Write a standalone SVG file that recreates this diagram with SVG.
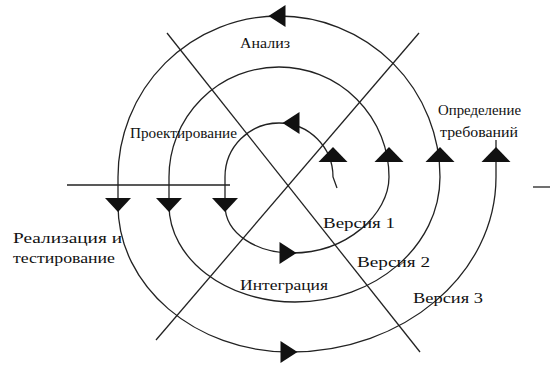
<svg xmlns="http://www.w3.org/2000/svg" width="550" height="365" viewBox="0 0 550 365">
<style>
.ln{fill:none;stroke:#222;stroke-width:1.3}
.ah{fill:#111;stroke:none}
.lb{font-family:"Liberation Serif","Times New Roman",serif;font-size:14px;fill:#111}
</style>
<defs>
<polygon id="up" points="0,-8 14.5,7 -14.5,7"/>
<polygon id="down" points="0,7 13,-7 -13,-7"/>
<polygon id="left" points="-8.5,0 8.5,-11 8.5,11"/>
<polygon id="right" points="8.5,0 -8.5,-11 -8.5,11"/>
</defs>
<rect width="550" height="365" fill="#fff"/>
<g id="connectors">
<line class="ln" x1="67" y1="185" x2="230" y2="185"/>
<line class="ln" x1="533" y1="187" x2="550" y2="187"/>
<line class="ln" x1="167" y1="33" x2="420" y2="352"/>
<line class="ln" x1="419" y1="33" x2="156" y2="340"/>
<path class="ln" d="M337,188 L333,177 A54,54 0 0 0 225,177 L225,205 C225,234 257,253 292,253 C347,253 389,214 389,177 A110,110 0 0 0 169,177 L169,205 C169,259 226,302 295,302 C375,302 440,246 440,177 A161,161 0 0 0 118,177 L118,205 C118,286 195,352 290,352 C404,352 496,274 496,177 L496,140"/>
</g>
<g id="arrows" class="ah">
<use href="#left" x="277" y="16"/>
<use href="#left" x="291" y="123"/>
<use href="#right" x="288" y="253"/>
<use href="#right" x="289" y="352"/>
<use href="#up" x="333" y="155"/>
<use href="#up" x="389" y="155"/>
<use href="#up" x="440" y="155"/>
<use href="#up" x="496" y="155"/>
<use href="#down" x="118" y="205"/>
<use href="#down" x="169" y="205"/>
<use href="#down" x="225" y="205"/>
</g>
<g id="analiz"><text class="lb" x="240" y="48" textLength="50" lengthAdjust="spacingAndGlyphs">Анализ</text></g>
<g id="proekt"><text class="lb" x="130" y="138" textLength="107" lengthAdjust="spacingAndGlyphs">Проектирование</text></g>
<g id="opred"><text class="lb" x="438" y="115" textLength="83" lengthAdjust="spacingAndGlyphs">Определение</text><text class="lb" x="440" y="137" textLength="78" lengthAdjust="spacingAndGlyphs">требований</text></g>
<g id="realiz"><text class="lb" x="13" y="243" textLength="109" lengthAdjust="spacingAndGlyphs">Реализация и</text><text class="lb" x="13" y="263" textLength="102" lengthAdjust="spacingAndGlyphs">тестирование</text></g>
<g id="v1"><text class="lb" x="323" y="228" textLength="72" lengthAdjust="spacingAndGlyphs">Версия 1</text></g>
<g id="v2"><text class="lb" x="357" y="267" textLength="73" lengthAdjust="spacingAndGlyphs">Версия 2</text></g>
<g id="integr"><text class="lb" x="240" y="290" textLength="88" lengthAdjust="spacingAndGlyphs">Интеграция</text></g>
<g id="v3"><text class="lb" x="413" y="303" textLength="70" lengthAdjust="spacingAndGlyphs">Версия 3</text></g>
</svg>
